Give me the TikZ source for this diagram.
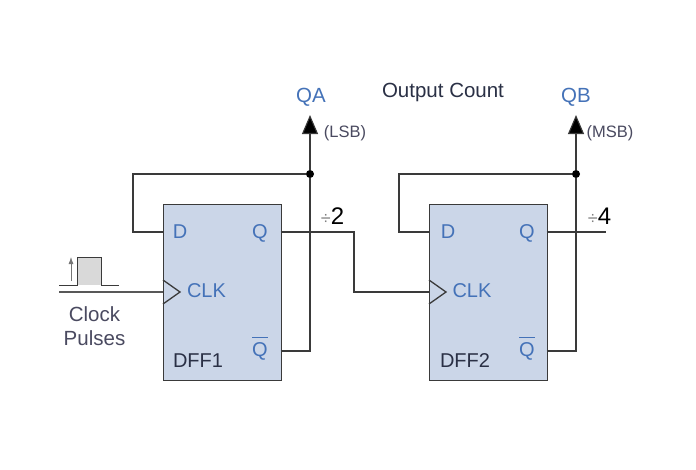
\documentclass[tikz,border=0pt]{standalone}
\usepackage{fontspec}
\setmainfont{Liberation Sans}
\usetikzlibrary{arrows.meta,calc}
\definecolor{boxfill}{HTML}{CBD6E8}
\definecolor{labelblue}{HTML}{4472B8}
\definecolor{wire}{HTML}{3A3A3A}
\definecolor{darktext}{HTML}{2A3045}
\definecolor{midtext}{HTML}{4A4A60}
\newcommand{\qbarlabel}{$\overline{\mbox{Q}\rule{0pt}{17.5pt}}$}
\tikzset{
  x=1pt,y=-1pt,
  ffbox/.style={draw=wire,fill=boxfill,line width=1.5pt,minimum width=118pt,minimum height=176pt,inner sep=0pt,anchor=north west},
  wireline/.style={draw=wire,line width=1.1pt,line join=miter},
  thinwire/.style={draw=wire,line width=1pt},
  outarrow/.style={wireline,-{Triangle[length=19pt,width=16pt,fill=black]}},
  junction/.style={circle,fill=black,inner sep=0pt,minimum size=8pt},
  pin/.style={text=labelblue,font=\fontsize{20}{22}\selectfont,inner sep=0pt,anchor=base},
  ffname/.style={text=darktext,font=\fontsize{20}{22}\selectfont,inner sep=0pt,anchor=base},
  outname/.style={text=labelblue,font=\fontsize{20.5}{22}\selectfont,inner sep=0pt,anchor=base},
  caption/.style={text=darktext,font=\fontsize{20.5}{22}\selectfont,inner sep=0pt,anchor=base},
  small/.style={text=midtext,font=\fontsize{16.5}{18}\selectfont,inner sep=0pt,anchor=base},
  divlabel/.style={text=black,font=\fontsize{24}{26}\selectfont,inner sep=0pt,anchor=base},
  graytext/.style={text=midtext,font=\fontsize{20.5}{24}\selectfont,inner sep=0pt,anchor=base}
}
\begin{document}
\begin{tikzpicture}
\useasboundingbox (0,0) rectangle (696,469);
\fill[white] (0,0) rectangle (696,469);
% flip-flops
\node[ffbox] (ff1) at (162.5,203.5) {};
\node[ffbox] (ff2) at (428.5,203.5) {};
% coordinates
\coordinate (d1) at (163,232);
\coordinate (q1) at (280.5,232);
\coordinate (c1) at (163,292);
\coordinate (nq1) at (280.5,351);
\coordinate (d2) at (429,232);
\coordinate (q2) at (546.5,232);
\coordinate (c2) at (429,292);
\coordinate (nq2) at (546.5,351);
\coordinate (tip1) at (310,115);
\coordinate (tip2) at (576,115);
\coordinate (end2) at (606,232);
\coordinate (clkin) at (59,292);
\node[junction] (j1) at (310,174) {};
\node[junction] (j2) at (576,174) {};
% wires
\draw[wireline] (nq1) -| (j1);
\draw[outarrow] (j1) -- (tip1);
\draw[wireline] (j1) -| (133,232) -- (d1);
\draw[wireline] (q1) -- (354,232) -- (354,292) -- (c2);
\draw[wireline] (nq2) -| (j2);
\draw[outarrow] (j2) -- (tip2);
\draw[wireline] (j2) -| (399,232) -- (d2);
\draw[wireline] (q2) -- (end2);
\draw[wireline,draw=wire!85] (clkin) -- (c1);
% clock triangles
\draw[wireline,line width=1.3pt] (163,280) -- (180,292) -- (163,304);
\draw[wireline,line width=1.3pt] (429,280) -- (446,292) -- (429,304);
% clock pulse
\fill[gray!30] (78,257) rectangle (101,285);
\draw[thinwire] (59,285.5) -- (77,285.5) -- (77,257) -- (101,257) -- (101,285.5) -- (119,285.5);
\draw[draw=wire!70,line width=.8pt,-{Latex[length=7pt,width=5pt]}] (71,281) -- (71,257);
% pin labels
\node[pin] (ld1) at (180,238) {D};
\node[pin] (lq1) at (260,238) {Q};
\node[pin] (lc1) at (206.5,297) {CLK};
\node[pin] (lnq1) at (260,356) {\qbarlabel};
\node[pin] (ld2) at (448,238) {D};
\node[pin] (lq2) at (527,238) {Q};
\node[pin] (lc2) at (472,297) {CLK};
\node[pin] (lnq2) at (527,356) {\qbarlabel};
\node[ffname] (n1) at (198,367) {DFF1};
\node[ffname] (n2) at (465,367) {DFF2};
% outputs
\node[outname] (qa) at (311,102) {QA};
\node[outname] (qb) at (576,102) {QB};
\node[caption] (oc) at (443,97) {Output Count};
\node[small] (lsb) at (345,137) {(LSB)};
\node[small] (msb) at (610,137) {(MSB)};
\node[divlabel] (dv1) at (332.5,224) {\textcolor{gray}{\fontsize{18}{20}\selectfont ÷}2};
\node[divlabel] (dv2) at (599.5,224) {\textcolor{gray}{\fontsize{18}{20}\selectfont ÷}4};
\node[graytext] (cp1) at (94.5,321) {Clock};
\node[graytext] (cp2) at (94.5,345) {Pulses};
\end{tikzpicture}
\end{document}
